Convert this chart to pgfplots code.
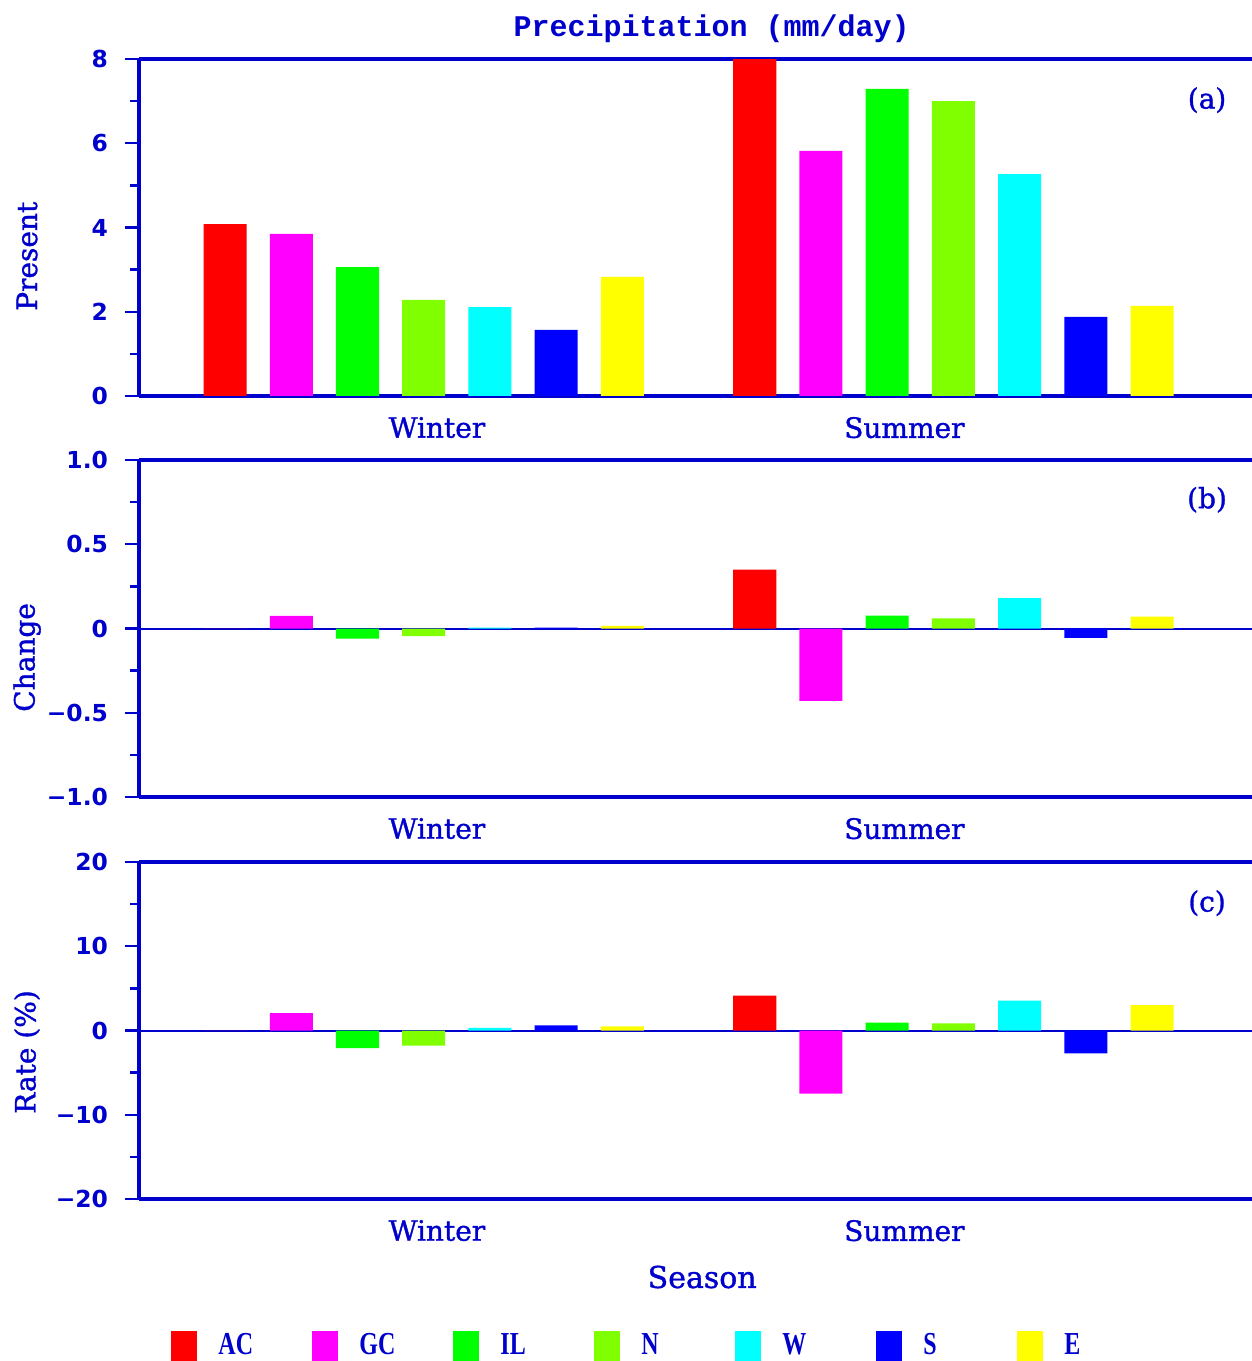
\documentclass[border=0pt]{standalone}
\usepackage{fontspec}
\setmainfont{DejaVu Serif}
\newfontfamily\lblfam{DejaVu Serif}[FakeBold=1.2]
\newfontfamily\tickfont{DejaVu Sans}
\newfontfamily\titlefont{Liberation Mono}
\newfontfamily\legfont{Liberation Serif}
\usepackage{pgfplots}
\pgfplotsset{compat=1.18}
\definecolor{tb}{RGB}{0,0,204}
\definecolor{cAC}{RGB}{255,0,0}
\definecolor{cGC}{RGB}{255,0,255}
\definecolor{cIL}{RGB}{0,255,0}
\definecolor{cN}{RGB}{128,255,0}
\definecolor{cW}{RGB}{0,255,255}
\definecolor{cS}{RGB}{0,0,255}
\definecolor{cE}{RGB}{255,255,0}
\newcommand\lblfont{\lblfam\fontsize{14}{14}\selectfont}
\newcommand\leg[1]{\makebox[40pt][l]{\legfont\bfseries\fontsize{16}{16}\selectfont\scalebox{0.75}[1]{#1}}}
\pgfplotsset{
  panel/.style={
    scale only axis, width=556.5pt, height=168.5pt,
    xmin=-1.3, xmax=15.51,
    axis x line=box, axis y line=left,
    axis line style={tb, line width=2pt},
    y axis line style={-},
    xtick={3.2,10.26}, xticklabels={Winter,Summer},
    xticklabel pos=bottom,
    x tick style={draw=none},
    ytick pos=left, tick align=outside,
    y tick style={tb, line width=1.2pt},
    major tick length=7pt, minor tick length=4.5pt,
    minor y tick num=1,
    ticklabel style={text=tb},
    yticklabel style={font=\tickfont\bfseries\fontsize{11.7}{12}\selectfont, xshift=-5pt},
    xticklabel style={font=\lblfont},
    every axis y label/.style={at={(axis description cs:-0.1006,0.232)}, rotate=90, anchor=west, text=tb, font=\lblfont},
    ybar, bar width=0.65, bar shift=0pt,
  },
  zeroline/.style={
    extra y ticks={0}, extra y tick labels={},
    extra y tick style={grid=major, major grid style={tb, line width=1pt}},
  }
}
\begin{document}
\begin{tikzpicture}
\useasboundingbox (0,0) rectangle (626pt,-680.5pt);
% ---------------- panel (a)
\begin{axis}[panel, at={(69.5pt,-29.5pt)}, anchor=north west,
  ymin=0, ymax=8, ytick={0,2,4,6,8}, yticklabels={0,2,4,6,8},
  ylabel={Present},
  title={Precipitation (mm/day)},
  title style={at={(axis description cs:0.5144,1)}, anchor=center, yshift=9pt, text=tb, font=\titlefont\bfseries\fontsize{15}{15}\selectfont},
]
\addplot[fill=cAC, draw=none] coordinates {(0,4.08) (8,8.0)};
\addplot[fill=cGC, draw=none] coordinates {(1,3.85) (9,5.82)};
\addplot[fill=cIL, draw=none] coordinates {(2,3.06) (10,7.29)};
\addplot[fill=cN,  draw=none] coordinates {(3,2.28) (11,7.00)};
\addplot[fill=cW,  draw=none] coordinates {(4,2.11) (12,5.27)};
\addplot[fill=cS,  draw=none] coordinates {(5,1.57) (13,1.88)};
\addplot[fill=cE,  draw=none] coordinates {(6,2.83) (14,2.14)};
\node[text=tb, font=\lblfont] at (axis description cs:0.9596,0.878) {(a)};
\end{axis}
% ---------------- panel (b)
\begin{axis}[panel, zeroline, at={(69.5pt,-230pt)}, anchor=north west,
  ymin=-1, ymax=1, ytick={-1,-0.5,0,0.5,1}, yticklabels={−1.0,−0.5,0,0.5,1.0},
  ylabel={Change},
]
\addplot[fill=cAC, draw=none] coordinates {(0,0.0) (8,0.35)};
\addplot[fill=cGC, draw=none] coordinates {(1,0.075) (9,-0.43)};
\addplot[fill=cIL, draw=none] coordinates {(2,-0.06) (10,0.077)};
\addplot[fill=cN,  draw=none] coordinates {(3,-0.045) (11,0.06)};
\addplot[fill=cW,  draw=none] coordinates {(4,0.005) (12,0.18)};
\addplot[fill=cS,  draw=none] coordinates {(5,0.005) (13,-0.055)};
\addplot[fill=cE,  draw=none] coordinates {(6,0.016) (14,0.07)};
\node[text=tb, font=\lblfont] at (axis description cs:0.9596,0.882) {(b)};
\end{axis}
% ---------------- panel (c)
\begin{axis}[panel, zeroline, at={(69.5pt,-431pt)}, anchor=north west,
  ymin=-20, ymax=20, ytick={-20,-10,0,10,20}, yticklabels={−20,−10,0,10,20},
  ylabel={Rate (\%)},
  xlabel={Season},
  every axis x label/.style={at={(axis description cs:0.506,0)}, anchor=center, yshift=-39pt, text=tb, font=\lblfam\fontsize{15}{15}\selectfont},
  legend columns=7,
  legend image code/.code={\fill[#1] (0pt,-7.5pt) rectangle (13pt,7.5pt);},
  legend style={at={(axis description cs:0.0234,-0.374)}, anchor=north west,
    draw=none, fill=none, text=tb,
    /tikz/every odd column/.append style={column sep=8.5pt},
    /tikz/every even column/.append style={column sep=5pt}},
]
\addplot[fill=cAC, draw=none] coordinates {(0,0.0) (8,4.15)};
\addplot[fill=cGC, draw=none] coordinates {(1,2.05) (9,-7.5)};
\addplot[fill=cIL, draw=none] coordinates {(2,-2.1) (10,0.95)};
\addplot[fill=cN,  draw=none] coordinates {(3,-1.8) (11,0.85)};
\addplot[fill=cW,  draw=none] coordinates {(4,0.3) (12,3.55)};
\addplot[fill=cS,  draw=none] coordinates {(5,0.6) (13,-2.7)};
\addplot[fill=cE,  draw=none] coordinates {(6,0.5) (14,3.0)};
\legend{\leg{AC},\leg{GC},\leg{IL},\leg{N},\leg{W},\leg{S},\leg{E}}
\node[text=tb, font=\lblfont] at (axis description cs:0.9596,0.878) {(c)};
\end{axis}
\end{tikzpicture}
\end{document}
